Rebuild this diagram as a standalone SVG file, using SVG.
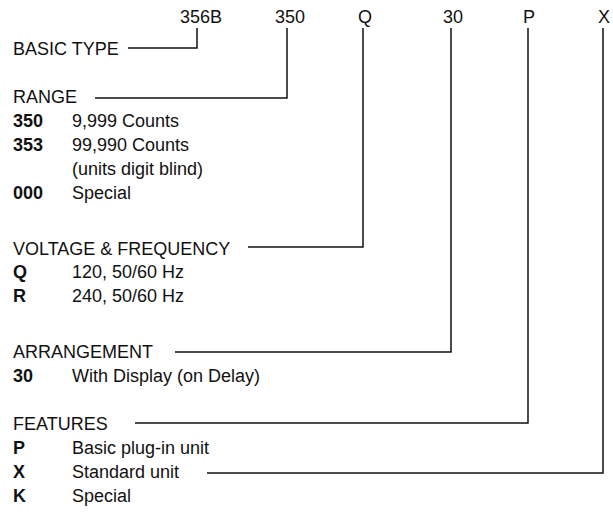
<svg xmlns="http://www.w3.org/2000/svg" width="613" height="512" viewBox="0 0 613 512">
<style>
text{font-family:"Liberation Sans",Arial,sans-serif;font-size:18px;fill:#111}
.b{font-weight:bold}
.c{fill:none;stroke:#111;stroke-width:1.5}
</style>
<rect width="613" height="512" fill="#fff"/>
<g id="codes">
<text x="180" y="23">356B</text>
<text x="275" y="23">350</text>
<text x="358" y="23">Q</text>
<text x="443" y="23">30</text>
<text x="523" y="23">P</text>
<text x="598" y="23">X</text>
</g>
<g id="basic-type"><text x="13" y="55">BASIC TYPE</text></g>
<g id="range">
<text x="13" y="103">RANGE</text>
<text class="b" x="13" y="127">350</text><text x="72" y="127">9,999 Counts</text>
<text class="b" x="13" y="151">353</text><text x="72" y="151">99,990 Counts</text>
<text x="72" y="175">(units digit blind)</text>
<text class="b" x="13" y="199">000</text><text x="72" y="199">Special</text>
</g>
<g id="voltage">
<text x="13" y="255">VOLTAGE &amp; FREQUENCY</text>
<text class="b" x="13" y="278">Q</text><text x="72" y="278">120, 50/60 Hz</text>
<text class="b" x="13" y="302">R</text><text x="72" y="302">240, 50/60 Hz</text>
</g>
<g id="arrangement">
<text x="13" y="358">ARRANGEMENT</text>
<text class="b" x="13" y="382">30</text><text x="72" y="382">With Display (on Delay)</text>
</g>
<g id="features">
<text x="13" y="430">FEATURES</text>
<text class="b" x="13" y="454">P</text><text x="72" y="454">Basic plug-in unit</text>
<text class="b" x="13" y="478">X</text><text x="72" y="478">Standard unit</text>
<text class="b" x="13" y="502">K</text><text x="72" y="502">Special</text>
</g>
<g id="connectors">
<polyline class="c" points="128,48 197,48 197,28"/>
<polyline class="c" points="95,98 287,98 287,28"/>
<polyline class="c" points="248,247 363,247 363,28"/>
<polyline class="c" points="175,352 451,352 451,28"/>
<polyline class="c" points="135,423 528,423 528,28"/>
<polyline class="c" points="207,473 603,473 603,28"/>
</g>
</svg>
